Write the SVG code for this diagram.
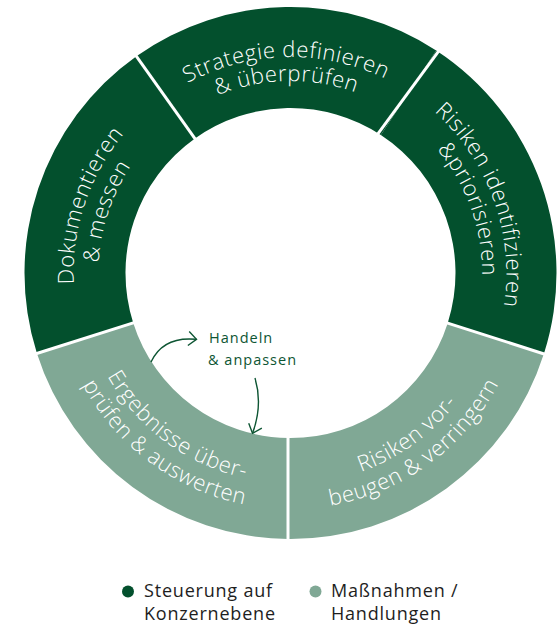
<svg xmlns="http://www.w3.org/2000/svg" xmlns:xlink="http://www.w3.org/1999/xlink" width="559" height="625" viewBox="0 0 559 625">
<style>
.dark{fill:#03502d}
.light{fill:#80a895}
.seg{font-family:"Open Sans","Liberation Sans",sans-serif;font-size:22px;font-weight:300;letter-spacing:0.6px;fill:#ffffff}
.div{stroke:#ffffff;stroke-width:3;fill:none}
.conn{stroke:#0d5533;stroke-width:1.4;fill:none}
.note{font-family:"Open Sans","Liberation Sans",sans-serif;font-size:14.5px;letter-spacing:1px;fill:#0d5533}
.leg{font-family:"Open Sans","Liberation Sans",sans-serif;font-size:18px;letter-spacing:0.8px;fill:#1e1e1e}
</style>
<defs>
<marker id="chev" markerUnits="userSpaceOnUse" markerWidth="20" markerHeight="20" refX="0" refY="0" orient="auto" overflow="visible">
<path d="M-8,-7 L0,0 L-8,7" fill="none" stroke="#0d5533" stroke-width="1.4"/>
</marker>
<path id="pStr1" d="M73.55,277.54 A217,217 0 0 1 507.45,268.46"/>
<path id="pStr2" d="M98.54,277.02 A192,192 0 0 1 482.46,268.98"/>
<path id="pDok1" d="M221.65,478.79 A217,217 0 0 1 359.35,67.21"/>
<path id="pDok2" d="M229.58,455.08 A192,192 0 0 1 351.42,90.92"/>
<path id="pRid1" d="M217.53,68.64 A217,217 0 0 1 363.47,477.36"/>
<path id="pRid2" d="M225.94,92.18 A192,192 0 0 1 355.06,453.82"/>
<path id="pVor1" d="M119.56,396.70 A211,211 0 0 0 461.44,149.30"/>
<path id="pVor2" d="M99.31,411.36 A236,236 0 0 0 481.69,134.64"/>
<path id="pErg1" d="M120.89,147.49 A211,211 0 0 0 460.11,398.51"/>
<path id="pErg2" d="M100.79,132.62 A236,236 0 0 0 480.21,413.38"/>
</defs>

<g id="strategie">
<path class="dark" d="M136.41,56.18 A266,266 0 0 1 436.20,50.46 L380.88,134.96 A165,165 0 0 0 194.92,138.50 Z"/>
<text class="seg"><textPath href="#pStr1" startOffset="50%" text-anchor="middle">Strategie definieren</textPath></text>
<text class="seg"><textPath href="#pStr2" startOffset="50%" text-anchor="middle">&amp; überprüfen</textPath></text>
</g>
<g id="risiken-identifizieren">
<path class="dark" d="M436.20,50.46 A266,266 0 0 1 543.91,353.87 L447.69,323.16 A165,165 0 0 0 380.88,134.96 Z"/>
<text class="seg"><textPath href="#pRid1" startOffset="50%" text-anchor="middle">Risiken identifizieren</textPath></text>
<text class="seg"><textPath href="#pRid2" startOffset="50%" text-anchor="middle">&amp;priorisieren</textPath></text>
</g>
<g id="risiken-vorbeugen">
<path class="light" d="M543.91,353.87 A266,266 0 0 1 288.18,539.0 L289.06,437.99 A165,165 0 0 0 447.69,323.16 Z"/>
<text class="seg"><textPath href="#pVor1" startOffset="50%" text-anchor="middle">Risiken vor-</textPath></text>
<text class="seg"><textPath href="#pVor2" startOffset="50%" text-anchor="middle">beugen &amp; verringern</textPath></text>
</g>
<g id="ergebnisse">
<path class="light" d="M288.18,539.0 A266,266 0 0 1 36.95,353.43 L133.22,322.89 A165,165 0 0 0 289.06,437.99 Z"/>
<text class="seg"><textPath href="#pErg1" startOffset="50%" text-anchor="middle">Ergebnisse über-</textPath></text>
<text class="seg"><textPath href="#pErg2" startOffset="50%" text-anchor="middle">prüfen &amp; auswerten</textPath></text>
</g>
<g id="dokumentieren">
<path class="dark" d="M36.95,353.43 A266,266 0 0 1 136.41,56.18 L194.92,138.50 A165,165 0 0 0 133.22,322.89 Z"/>
<text class="seg"><textPath href="#pDok1" startOffset="50%" text-anchor="middle">Dokumentieren</textPath></text>
<text class="seg"><textPath href="#pDok2" startOffset="50%" text-anchor="middle">&amp; messen</textPath></text>
</g>

<g id="dividers">
<line class="div" x1="197.8" y1="142.6" x2="132.9" y2="51.3"/>
<line class="div" x1="376.4" y1="135.8" x2="441.6" y2="47.2"/>
<line class="div" x1="443.0" y1="321.6" x2="549.6" y2="355.7"/>
<line class="div" x1="288" y1="430" x2="288" y2="545"/>
<line class="div" x1="138.0" y1="321.4" x2="31.2" y2="355.2"/>
</g>

<g id="handeln">
<text class="note" x="209" y="343">Handeln</text>
<text class="note" x="208" y="365">&amp; anpassen</text>
</g>

<g id="connectors">
<path class="conn" d="M151,362 Q163,336 196.5,339.3" marker-end="url(#chev)"/>
<path class="conn" d="M255,378 Q263,405 252.5,433.3" marker-end="url(#chev)"/>
</g>

<g id="legend">
<circle cx="128" cy="591.5" r="6" class="dark"/>
<text class="leg" x="144" y="597">Steuerung auf</text>
<text class="leg" x="144" y="620">Konzernebene</text>
<circle cx="315.5" cy="591.5" r="6" class="light"/>
<text class="leg" x="331" y="597">Maßnahmen /</text>
<text class="leg" x="331" y="620">Handlungen</text>
</g>
</svg>
